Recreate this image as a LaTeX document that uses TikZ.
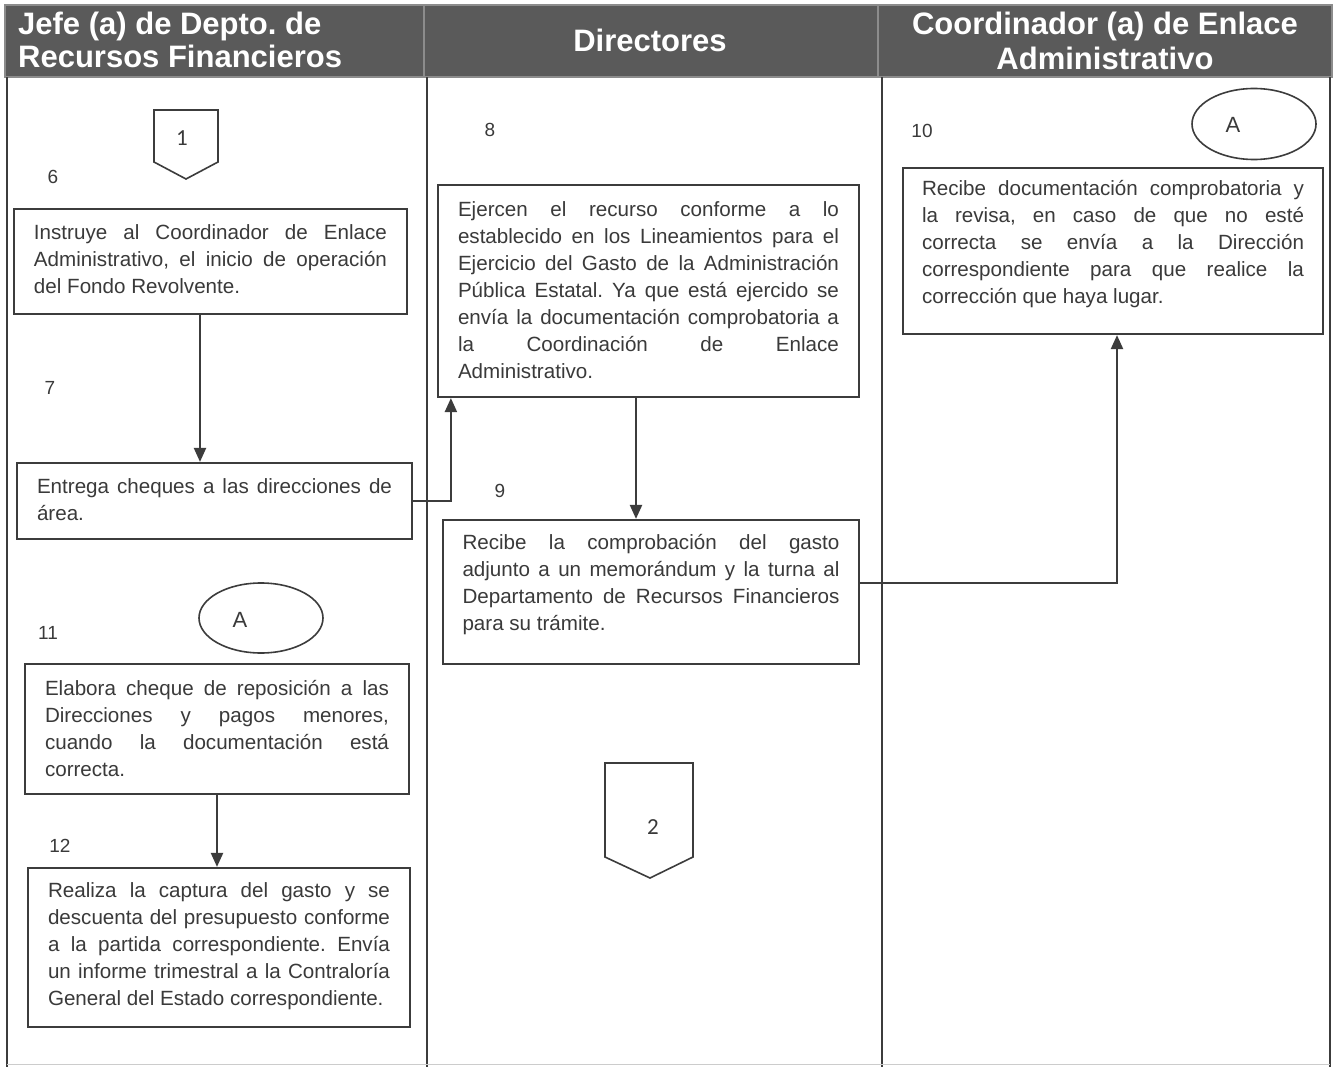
\documentclass[tikz,border=0pt]{standalone}
\usepackage{fontspec}
\setmainfont{Liberation Sans}
\newfontfamily\numfont{Carlito}
\usetikzlibrary{arrows.meta,calc,shapes.geometric}
\definecolor{hdr}{HTML}{5A5A5A}
\definecolor{hdrline}{HTML}{8C8C8C}
\definecolor{ink}{HTML}{3A3A3A}
\definecolor{edge}{HTML}{3C3C3C}
\frenchspacing
% forced break that keeps the line justified
\newcommand{\jbr}{\linebreak}
\begin{document}
\begin{tikzpicture}[x=1pt,y=-1pt,
  box/.style={draw=edge,line width=2.2pt,inner sep=0pt,rectangle},
  txt/.style={text=ink,align=justify,inner sep=0pt,font=\fontsize{20.6}{27}\selectfont,
    execute at begin node={\tolerance=10000\hyphenpenalty=10000\emergencystretch=0pt}},
  stepno/.style={text=ink,inner sep=0pt,font=\fontsize{19}{21}\selectfont},
  hdrtext/.style={text=white,inner sep=0pt,font=\bfseries\fontsize{31}{34}\selectfont},
  flow/.style={draw=edge,line width=2.2pt,-{Triangle[length=14pt,width=12pt]}},
  lane/.style={draw=edge,line width=2pt},
  conn/.style={draw=edge,line width=1.6pt},
  connlbl/.style={text=ink,inner sep=0pt,font=\numfont\fontsize{23}{25}\selectfont},
  letter/.style={text=ink,inner sep=0pt,font=\fontsize{22}{24}\selectfont},
]
\useasboundingbox (0,0) rectangle (1336,1067);
\fill[white] (0,0) rectangle (1336,1067);

% header band
\fill[hdr] (5,5) rectangle (1332,77);
\draw[hdrline,line width=1.5pt] (5,5) rectangle (1332,77);
\draw[hdrline,line width=2pt] (424,5) -- (424,77);
\draw[hdrline,line width=2pt] (878,5) -- (878,77);
\node[hdrtext,anchor=base west] (h1a) at (18,35) {Jefe (a) de Depto. de};
\node[hdrtext,anchor=base west] (h1b) at (18,68) {Recursos Financieros};
\node[hdrtext,anchor=base] (h2) at (650,52) {Directores};
\node[hdrtext,anchor=base] (h3a) at (1105,35) {Coordinador (a) de Enlace};
\node[hdrtext,anchor=base] (h3b) at (1105,70) {Administrativo};

% swimlanes
\draw[lane] (7,77) -- (7,1067);
\draw[lane] (427,77) -- (427,1067);
\draw[lane] (882,77) -- (882,1067);
\draw[lane] (1330,77) -- (1330,1067);
\draw[gray!40,line width=1pt] (7,1064) -- (1330,1064);

% off-page connector 1
\draw[conn] (154,110) -- (218,110) -- (218,162) -- (186,179) -- (154,162) -- cycle;
\node[connlbl] (p1) at (182,138) {1};

% step numbers
\node[stepno] (n6) at (53,177) {6};
\node[stepno] (n7) at (50,388) {7};
\node[stepno] (n8) at (490,130) {8};
\node[stepno] (n9) at (500,491) {9};
\node[stepno] (n10) at (922,131) {10};
\node[stepno] (n11) at (48,633) {11};
\node[stepno] (n12) at (60,846) {12};

% boxes
\node[box,minimum width=393,minimum height=105] (b6) at (210.5,261.5) {};
\node[txt,text width=353] (t6) at ([yshift=2.5pt]b6.center) {%
Instruye al Coordinador de Enlace\jbr
Administrativo, el inicio de operación\jbr
del Fondo Revolvente.};

\node[box,minimum width=395,minimum height=76] (b7) at (214.5,501) {};
\node[txt,text width=355] (t7) at ([yshift=1pt]b7.center) {%
Entrega cheques a las direcciones de\jbr
área.};

\node[box,minimum width=421,minimum height=212] (b8) at (648.5,291) {};
\node[txt,text width=381] (t8) at ([yshift=1pt]b8.center) {%
Ejercen el recurso conforme a lo\jbr
establecido en los Lineamientos para el\jbr
Ejercicio del Gasto de la Administración\jbr
Pública Estatal. Ya que está ejercido se\jbr
envía la documentación comprobatoria a\jbr
la Coordinación de Enlace\jbr
Administrativo.};

\node[box,minimum width=416,minimum height=144] (b9) at (651,592) {};
\node[txt,text width=377] (t9) at ([yshift=7.5pt]b9.center) {%
Recibe la comprobación del gasto\jbr
adjunto a un memorándum y la turna al\jbr
Departamento de Recursos Financieros\jbr
para su trámite.};

\node[box,minimum width=420,minimum height=166] (b10) at (1113,251) {};
\node[txt,text width=382] (t10) at ([yshift=7pt]b10.center) {%
Recibe documentación comprobatoria y\jbr
la revisa, en caso de que no esté\jbr
correcta se envía a la Dirección\jbr
correspondiente para que realice la\jbr
corrección que haya lugar.};

\node[box,minimum width=384,minimum height=130] (b11) at (217,729) {};
\node[txt,text width=344] (t11) at ([yshift=0.5pt]b11.center) {%
Elabora cheque de reposición a las\jbr
Direcciones y pagos menores,\jbr
cuando la documentación está\jbr
correcta.};

\node[box,minimum width=382,minimum height=159] (b12) at (219,947.5) {};
\node[txt,text width=342] (t12) at ([yshift=1pt]b12.center) {%
Realiza la captura del gasto y se\jbr
descuenta del presupuesto conforme\jbr
a la partida correspondiente. Envía\jbr
un informe trimestral a la Contraloría\jbr
General del Estado correspondiente.};

% connectors A
\node[draw=edge,line width=1.6pt,ellipse,inner sep=0pt,minimum width=124,minimum height=71] (eA1) at (1254,124) {};
\node[letter] (lA1) at (1233,125) {A};
\node[draw=edge,line width=1.6pt,ellipse,inner sep=0pt,minimum width=124,minimum height=70] (eA2) at (261,618) {};
\node[letter] (lA2) at (240,620) {A};

% off-page connector 2
\draw[conn] (605,763) -- (693,763) -- (693,857) -- (650,878) -- (605,857) -- cycle;
\node[connlbl] (p2) at (653,827) {2};

% flow
\draw[flow] ([xshift=-10.5pt]b6.south) coordinate (s6) -- (s6 |- b7.north);
\draw[flow] (b7.east) -| ([xshift=14pt]b8.south west);
\draw[flow] ([xshift=-12.5pt]b8.south) coordinate (s8) -- (s8 |- b9.north);
\draw[flow] ([yshift=9pt]b9.east) -| ([xshift=4pt]b10.south);
\draw[flow] (b11.south) coordinate (s11) -- (s11 |- b12.north);
\end{tikzpicture}
\end{document}
